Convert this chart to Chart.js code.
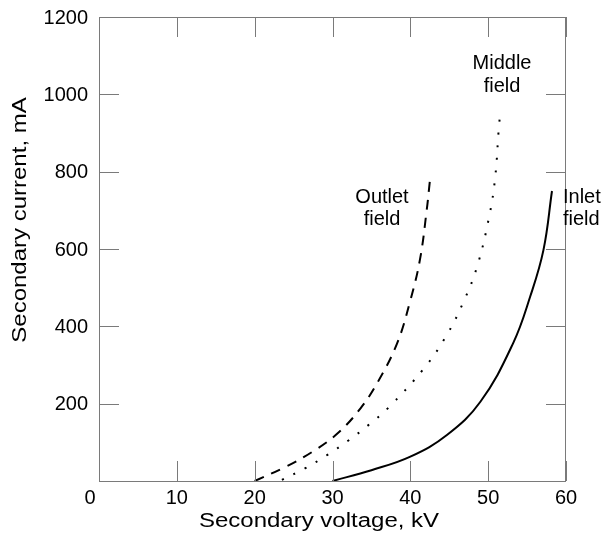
<!DOCTYPE html>
<html lang="en">
<head>
<meta charset="UTF-8">
<title>Secondary current vs secondary voltage</title>
<script src="https://cdn.jsdelivr.net/npm/chart.js"></script>
<style>
  html, body { margin: 0; padding: 0; background: #fff; }
  #wrap { width: 603px; height: 538px; }
</style>
</head>
<body>
<div id="wrap"><canvas id="chart" width="603" height="538"></canvas></div>
<script>
  // tick values
  const xTicks = [0, 10, 20, 30, 40, 50, 60];
  const yTicks = [200, 400, 600, 800, 1000, 1200];

  // voltage (kV) / current (mA)
  const inletV = [30, 35, 40, 44.7, 49, 53.2, 55.4, 57.1, 58.2];
  const inletI = [0, 28, 63, 119, 205, 356, 477, 597, 750];

  const middleV = [23.5, 26.5, 29.3, 32, 34.7, 37.2, 41.7, 44.55, 46.8, 48.6, 50.15, 50.9, 51.4, 51.6];
  const middleI = [3, 33, 67, 104, 146, 190, 290, 373, 462, 556, 686, 785, 921, 955];

  const outletV = [20, 23.9, 27.45, 30.7, 33.6, 35.85, 38.3, 39.96, 41.24, 42.1, 42.5];
  const outletI = [0, 36, 76, 124, 188, 257, 356, 464, 573, 700, 774];

  const pts = (xs, ys) => xs.map((x, i) => ({ x: x, y: ys[i] }));

  const FONT = '"Liberation Sans", Arial, sans-serif';
  const AXIS = '#7a7a7a';

  // title text in the original is drawn wider than the tick labels
  function wideText(ctx, text, x, y, rot) {
    ctx.save();
    ctx.translate(x, y);
    if (rot) ctx.rotate(rot);
    ctx.scale(1.2, 1);
    ctx.fillText(text, 0, 0);
    ctx.restore();
  }

  const frame = {
    id: 'frame',
    afterDraw(chart) {
      const ctx = chart.ctx;
      const a = chart.chartArea;
      const xs = chart.scales.x, ys = chart.scales.y;
      const tl = 20;
      ctx.save();
      ctx.strokeStyle = AXIS;
      ctx.lineWidth = 1;
      ctx.strokeRect(a.left + 0.5, a.top + 0.5, a.right - a.left - 1, a.bottom - a.top);
      ctx.beginPath();
      xTicks.forEach(v => {
        const px = Math.round(xs.getPixelForValue(v)) + 0.5;
        ctx.moveTo(px, a.bottom); ctx.lineTo(px, a.bottom - tl);
        ctx.moveTo(px, a.top); ctx.lineTo(px, a.top + tl);
      });
      yTicks.forEach(v => {
        const py = Math.round(ys.getPixelForValue(v)) + 0.5;
        ctx.moveTo(a.left, py); ctx.lineTo(a.left + tl, py);
        ctx.moveTo(a.right, py); ctx.lineTo(a.right - tl, py);
      });
      ctx.stroke();

      ctx.fillStyle = '#000';
      ctx.font = '20px ' + FONT;
      ctx.textBaseline = 'middle';
      ctx.textAlign = 'center';
      xTicks.forEach(v => {
        let px = xs.getPixelForValue(v);
        if (v === 0) px -= 9;
        ctx.fillText(String(v), px, a.bottom + 17);
      });
      ctx.textAlign = 'right';
      yTicks.forEach(v => {
        ctx.fillText(String(v), a.left - 11, ys.getPixelForValue(v) + 1);
      });

      // axis titles
      ctx.textAlign = 'center';
      wideText(ctx, 'Secondary voltage, kV', 319, 521, 0);
      wideText(ctx, 'Secondary current, mA', 20, 220, -Math.PI / 2);

      // curve labels
      ctx.fillText('Middle', 502, 63);
      ctx.fillText('field', 502, 86);
      ctx.fillText('Outlet', 382, 197);
      ctx.fillText('field', 382, 219);
      ctx.textAlign = 'left';
      ctx.fillText('Inlet', 563, 197);
      ctx.fillText('field', 563, 219);
      ctx.restore();
    }
  };

  const curve = (label, data, dash) => ({
    label: label,
    data: data,
    showLine: true,
    borderColor: '#000',
    borderWidth: 2,
    borderDash: dash,
    tension: 0.4,
    pointRadius: 0
  });

  new Chart(document.getElementById('chart'), {
    type: 'scatter',
    data: {
      datasets: [
        curve('Inlet field', pts(inletV, inletI), []),
        curve('Middle field', pts(middleV, middleI), [2, 10.7]),
        curve('Outlet field', pts(outletV, outletI), [10, 8])
      ]
    },
    options: {
      responsive: false,
      animation: false,
      layout: { padding: { top: 17, right: 37, left: 0, bottom: 0 } },
      plugins: { legend: { display: false }, tooltip: { enabled: false } },
      scales: {
        x: {
          type: 'linear', min: 0, max: 60,
          ticks: { display: false, stepSize: 10 },
          grid: { display: false },
          border: { display: false },
          afterFit: s => { s.height = 57; }
        },
        y: {
          type: 'linear', min: 0, max: 1200,
          ticks: { display: false, stepSize: 200 },
          grid: { display: false },
          border: { display: false },
          afterFit: s => { s.width = 99; }
        }
      }
    },
    plugins: [frame]
  });
</script>
</body>
</html>
